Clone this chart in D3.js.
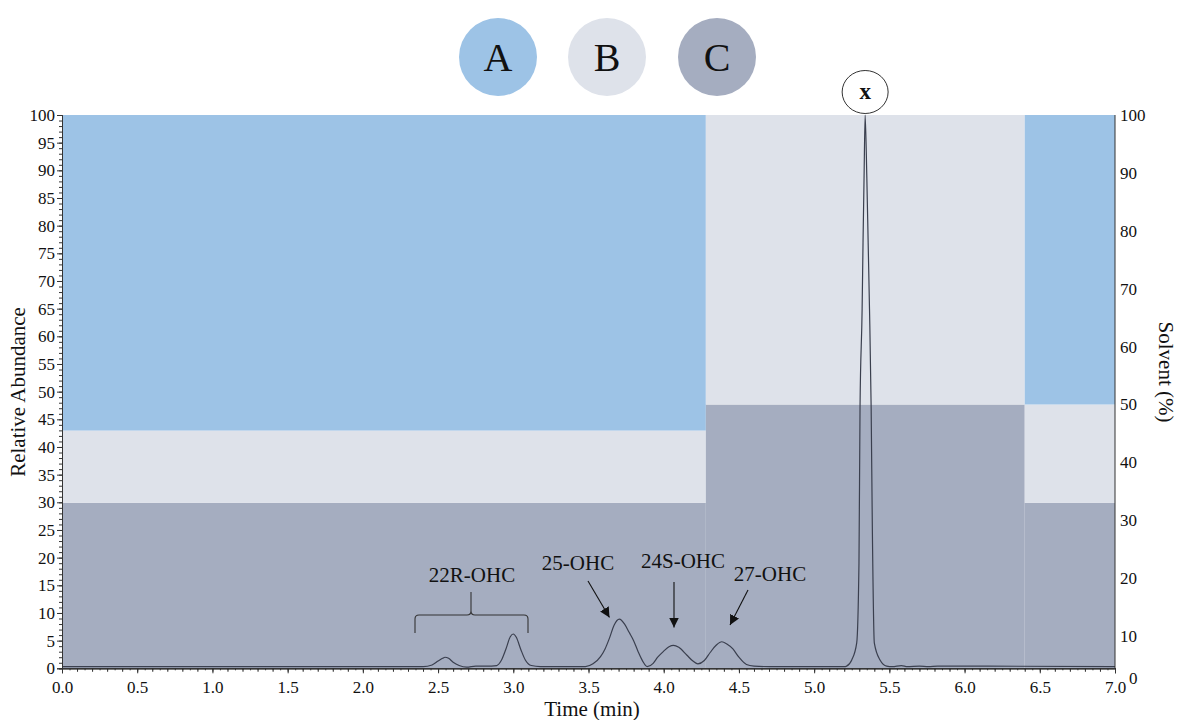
<!DOCTYPE html>
<html><head><meta charset="utf-8">
<script src="https://cdn.jsdelivr.net/npm/d3@7"></script>
<style>body{margin:0;background:#fff}svg{display:block}text{font-family:"Liberation Serif","Times New Roman",serif;fill:#111}</style>
</head><body>
<svg id="chart" width="1179" height="720"></svg>
<script>
// ---- data ----
const segStart = [0, 4.28, 6.40];
const segEnd   = [4.28, 6.40, 7.0];
const solventC = [33, 50, 33];
const solventB = [12.5, 50, 17];
const solventA = [54.5, 0, 50];
const solventNames = ["A", "B", "C"];
const solventColors = ["#9dc3e6", "#dee2ea", "#a5adc0"];

const chromTime = [0, 2.40, 2.46, 2.50, 2.53, 2.546, 2.57, 2.60, 2.64, 2.69, 2.75, 2.82, 2.89, 2.92, 2.95, 2.98, 3.00, 3.02, 3.05, 3.08, 3.12, 3.18,
  3.48, 3.53, 3.58, 3.61, 3.64, 3.67, 3.705, 3.74, 3.77, 3.80, 3.83, 3.86, 3.89, 3.93, 3.96, 4.00, 4.035, 4.065, 4.10, 4.153, 4.19, 4.227,
  4.27, 4.31, 4.35, 4.386, 4.42, 4.46, 4.50, 4.55, 4.60, 4.70, 5.20, 5.216, 5.25, 5.283, 5.298, 5.305, 5.319, 5.325, 5.332, 5.339,
  5.350, 5.359, 5.368, 5.379, 5.387, 5.400, 5.438, 5.482, 5.52, 5.58, 5.62, 5.70, 5.76, 5.82, 7.0];
const chromAbund = [0.3, 0.3, 0.6, 1.3, 1.8, 2.0, 1.8, 1.1, 0.5, 0.2, 0.4, 0.4, 0.5, 1.4, 3.4, 5.7, 6.2, 5.6, 3.4, 1.5, 0.5, 0.3,
  0.3, 0.8, 2.1, 3.5, 5.5, 7.8, 8.9, 8.0, 6.5, 5.0, 3.0, 1.3, 0.3, 0.9, 2.0, 3.1, 3.9, 4.15, 3.8, 2.4, 1.4, 0.8,
  1.4, 2.9, 4.2, 4.8, 4.4, 3.5, 2.0, 0.7, 0.4, 0.3, 0.3, 0.4, 1.5, 4.6, 19, 47, 65, 77, 89, 100,
  89, 77, 65, 47, 25, 4.6, 1.5, 0.4, 0.3, 0.5, 0.3, 0.4, 0.3, 0.4, 0.3];

const xTicks = [0, 0.5, 1.0, 1.5, 2.0, 2.5, 3.0, 3.5, 4.0, 4.5, 5.0, 5.5, 6.0, 6.5, 7.0];
const yTicks = [0,5,10,15,20,25,30,35,40,45,50,55,60,65,70,75,80,85,90,95,100];
const solventTicks = [0,10,20,30,40,50,60,70,80,90,100];

const peakLabels = ["22R-OHC", "25-OHC", "24S-OHC", "27-OHC"];

// ---- layout ----
const svg = d3.select("#chart");
const L = 62, R = 1115, T = 115, B = 668.3;
const x = d3.scaleLinear().domain([0, 7]).range([L, R]);
const y = d3.scaleLinear().domain([0, 100]).range([B, T]);
const ys = d3.scaleLinear().domain([0, 100]).range([694, T]);

// solvent blocks
const blocks = [];
segStart.forEach((s, i) => {
  const c = solventC[i], b = solventB[i], a = solventA[i];
  blocks.push({x0: s, x1: segEnd[i], lo: 0, hi: c, k: 2});
  blocks.push({x0: s, x1: segEnd[i], lo: c, hi: c + b, k: 1});
  if (a > 0) blocks.push({x0: s, x1: segEnd[i], lo: c + b, hi: 100, k: 0});
});
svg.append("g").selectAll("rect").data(blocks).join("rect")
  .attr("x", d => x(d.x0)).attr("width", d => x(d.x1) - x(d.x0))
  .attr("y", d => ys(d.hi))
  .attr("height", d => Math.min(B, ys(d.lo)) - ys(d.hi))
  .attr("fill", d => solventColors[d.k]);

// legend circles
const cx = [498, 607, 717];
const lg = svg.append("g");
solventNames.forEach((n, i) => {
  lg.append("circle").attr("cx", cx[i]).attr("cy", 57).attr("r", 39).attr("fill", solventColors[i]);
  lg.append("text").attr("x", cx[i]).attr("y", 71).attr("text-anchor", "middle")
    .attr("font-size", 40).text(n);
});

// chromatogram
const pts = chromTime.map((t, i) => [t, chromAbund[i]]);
svg.append("path").datum(pts)
  .attr("d", d3.line().x(d => x(d[0])).y(d => y(d[1])).curve(d3.curveMonotoneX))
  .attr("fill", "none").attr("stroke", "#3a3f4e").attr("stroke-width", 1.2);

// axes
const axCol = "#333";
const gx = svg.append("g").attr("transform", `translate(0,${B})`);
gx.call(d3.axisBottom(x).tickValues(d3.range(0, 7.0001, 0.05)).tickSize(2).tickFormat(""));
const gx2 = svg.append("g").attr("transform", `translate(0,${B})`);
gx2.call(d3.axisBottom(x).tickValues(d3.range(0, 7.0001, 0.1)).tickSize(3.5).tickFormat(""));
const gx3 = svg.append("g").attr("transform", `translate(0,${B})`);
gx3.call(d3.axisBottom(x).tickValues(xTicks).tickSize(5).tickFormat(d3.format(".1f")).tickPadding(8));
[gx, gx2, gx3].forEach(g => {
  g.selectAll(".tick line").attr("stroke", axCol);
  g.select(".domain").attr("stroke", axCol);
  g.selectAll("text").attr("font-size", 17).attr("font-family", "Liberation Serif").attr("fill", "#111");
});

const gy = svg.append("g").attr("transform", `translate(${L},0)`);
gy.call(d3.axisLeft(y).tickValues(d3.range(0, 101, 1)).tickSize(3).tickFormat(""));
const gy2 = svg.append("g").attr("transform", `translate(${L},0)`);
gy2.call(d3.axisLeft(y).tickValues(yTicks).tickSize(5).tickPadding(2));
[gy, gy2].forEach(g => {
  g.selectAll(".tick line").attr("stroke", axCol);
  g.select(".domain").attr("stroke", axCol);
  g.selectAll("text").attr("font-size", 17).attr("font-family", "Liberation Serif").attr("fill", "#111");
});

// right axis (labels only) + line
svg.append("line").attr("x1", R).attr("x2", R).attr("y1", T).attr("y2", B).attr("stroke", axCol);
const gr = svg.append("g").attr("transform", `translate(${R + 5},0)`);
gr.selectAll("text").data(solventTicks).join("text")
  .attr("x", d => d === 0 ? 9 : 0).attr("y", d => d === 0 ? 678 : ys(d)).attr("dy", "0.35em")
  .attr("font-size", 17).text(d => d);

// axis titles
svg.append("text").attr("x", 592).attr("y", 716).attr("text-anchor", "middle").attr("font-size", 21).text("Time (min)");
svg.append("text").attr("transform", "translate(25,392) rotate(-90)").attr("text-anchor", "middle").attr("font-size", 21).text("Relative Abundance");
svg.append("text").attr("transform", "translate(1159,372) rotate(90)").attr("text-anchor", "middle").attr("font-size", 21).text("Solvent (%)");

// x marker on big peak
svg.append("ellipse").attr("cx", x(5.339)).attr("cy", 92).attr("rx", 23).attr("ry", 21.5)
  .attr("fill", "#fff").attr("stroke", "#333").attr("stroke-width", 1);
svg.append("text").attr("x", x(5.339)).attr("y", 99).attr("text-anchor", "middle").attr("font-size", 23).attr("font-weight", "bold").text("x");

// peak annotations
const ann = svg.append("g");
const labelPos = [[472, 582], [578, 570], [683, 568], [770, 581]];
peakLabels.forEach((t, i) => {
  ann.append("text").attr("x", labelPos[i][0]).attr("y", labelPos[i][1]).attr("text-anchor", "middle").attr("font-size", 21).text(t);
});
// bracket
ann.append("path")
  .attr("d", "M415,633 L415,619 Q415,615 419,615 L467,615 Q471,615 471,611 L471,592 L471,611 Q471,615 475,615 L524,615 Q528,615 528,619 L528,633")
  .attr("fill", "none").attr("stroke", "#333").attr("stroke-width", 1.1);
// arrows
svg.append("defs").append("marker").attr("id", "ah").attr("viewBox", "0 0 10 10").attr("refX", 10).attr("refY", 5)
  .attr("markerWidth", 10).attr("markerHeight", 10).attr("markerUnits", "userSpaceOnUse").attr("orient", "auto")
  .append("path").attr("d", "M0,0 L10,5 L0,10 Z").attr("fill", "#111");
const arrows = [[588, 581, 609.5, 617.5], [674, 582, 674, 627.5], [748, 590, 730, 625]];
arrows.forEach(a => {
  ann.append("line").attr("x1", a[0]).attr("y1", a[1]).attr("x2", a[2]).attr("y2", a[3])
    .attr("stroke", "#111").attr("stroke-width", 1.1).attr("marker-end", "url(#ah)");
});
</script>
</body></html>
